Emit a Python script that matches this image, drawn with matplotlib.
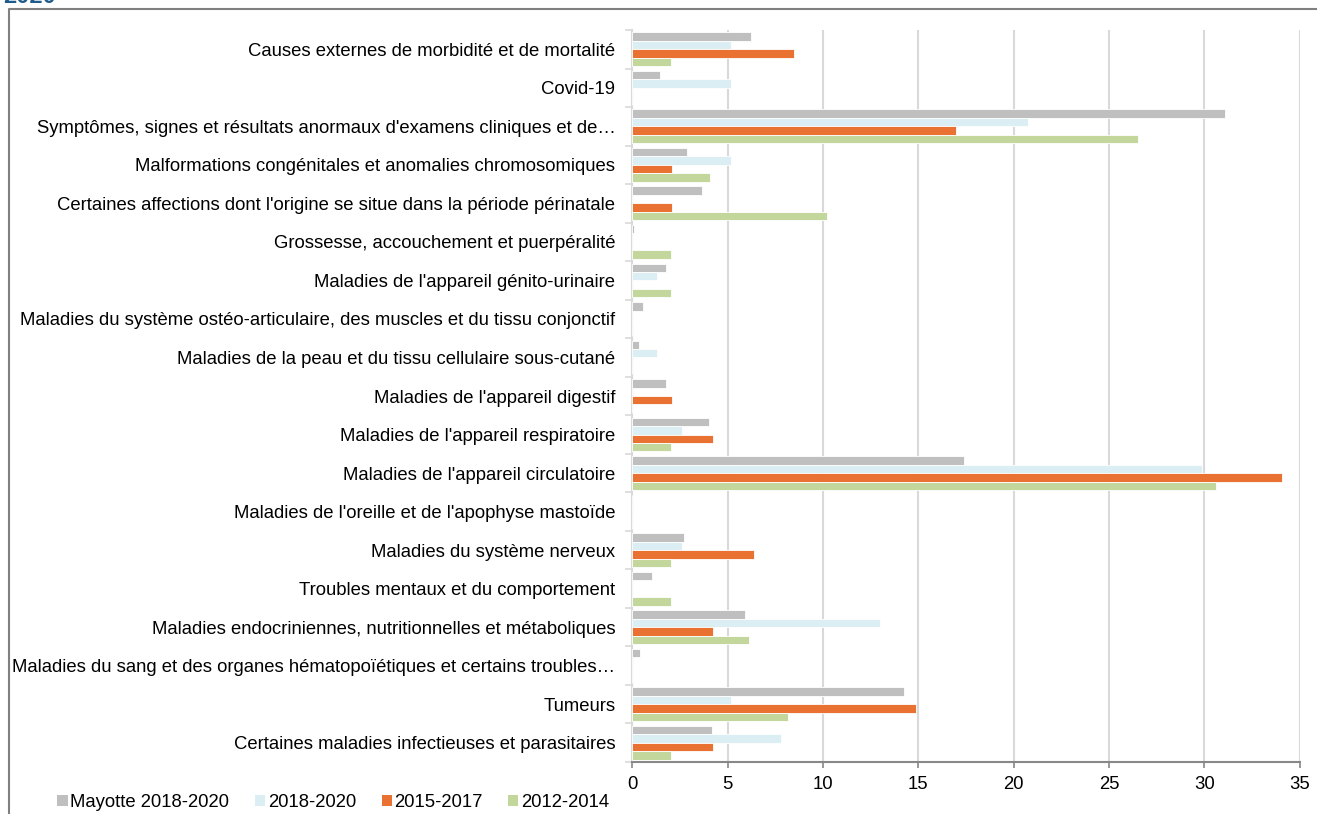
import matplotlib.pyplot as plt
from matplotlib.patches import Patch
from matplotlib.lines import Line2D
import numpy as np

plt.rcParams['font.family'] = ['Liberation Sans', 'DejaVu Sans']

# categories listed bottom to top (as drawn)
categories = [
    "Certaines maladies infectieuses et parasitaires",
    "Tumeurs",
    "Maladies du sang et des organes hématopoïétiques et certains troubles…",
    "Maladies endocriniennes, nutritionnelles et métaboliques",
    "Troubles mentaux et du comportement",
    "Maladies du système nerveux",
    "Maladies de l'oreille et de l'apophyse mastoïde",
    "Maladies de l'appareil circulatoire",
    "Maladies de l'appareil respiratoire",
    "Maladies de l'appareil digestif",
    "Maladies de la peau et du tissu cellulaire sous-cutané",
    "Maladies du système ostéo-articulaire, des muscles et du tissu conjonctif",
    "Maladies de l'appareil génito-urinaire",
    "Grossesse, accouchement et puerpéralité",
    "Certaines affections dont l'origine se situe dans la période périnatale",
    "Malformations congénitales et anomalies chromosomiques",
    "Symptômes, signes et résultats anormaux d'examens cliniques et de…",
    "Covid-19",
    "Causes externes de morbidité et de mortalité",
]

mayotte_2018_2020 = [4.2, 14.25, 0.4, 5.9, 1.05, 2.7, 0, 17.4, 4.05, 1.75, 0.35, 0.55, 1.75, 0.1, 3.65, 2.9, 31.1, 1.45, 6.25]
p2018_2020 = [7.8, 5.2, 0, 13.0, 0, 2.6, 0, 29.85, 2.6, 0, 1.3, 0, 1.3, 0, 0, 5.2, 20.75, 5.2, 5.2]
p2015_2017 = [4.25, 14.9, 0, 4.25, 0, 6.4, 0, 34.05, 4.25, 2.1, 0, 0, 0, 0, 2.1, 2.1, 17.0, 0, 8.5]
p2012_2014 = [2.05, 8.15, 0, 6.1, 2.05, 2.05, 0, 30.6, 2.05, 0, 0, 0, 2.05, 2.05, 10.2, 4.1, 26.5, 0, 2.05]

series_names = ["Mayotte 2018-2020", "2018-2020", "2015-2017", "2012-2014"]
colors = ["#BFBFBF", "#DAEEF3", "#E97132", "#C3D69B"]

fig = plt.figure(figsize=(13.17, 8.14), dpi=100)
ax = fig.add_axes([0.48, 0.064, 0.507, 0.899])

y = np.arange(len(categories))
h = 0.22
offsets = [1.5 * h, 0.5 * h, -0.5 * h, -1.5 * h]
for vals, off, col in zip([mayotte_2018_2020, p2018_2020, p2015_2017, p2012_2014], offsets, colors):
    ax.barh(y + off, vals, height=h, color=col, edgecolor='white', linewidth=0.6, zorder=3)

ax.set_xlim(0, 35)
ax.set_ylim(-0.5, len(categories) - 0.5)
ax.set_xticks(np.arange(0, 36, 5))
ax.set_yticks(y)
ax.set_yticklabels(categories)
ax.set_yticks(np.arange(-0.5, len(categories), 1), minor=True)
ax.tick_params(axis='y', which='major', length=0, pad=12, labelsize=13.3)
ax.tick_params(axis='y', which='minor', length=5, color='#D9D9D9', width=1.2)
ax.tick_params(axis='x', which='major', length=4, color='#888888', width=1.2, pad=6, labelsize=13.3)

ax.grid(axis='x', color='#D9D9D9', linewidth=1.5, zorder=0)
for s in ['top', 'right']:
    ax.spines[s].set_visible(False)
ax.spines['left'].set_color('#D9D9D9')
ax.spines['left'].set_linewidth(1.5)
ax.spines['bottom'].set_color('#888888')
ax.spines['bottom'].set_linewidth(1.5)

handles = [Patch(facecolor=c, edgecolor='none') for c in colors]
fig.legend(handles, series_names, loc='center left', bbox_to_anchor=(0.038, 0.014),
           ncol=4, frameon=False, fontsize=13.3, handlelength=0.55, handleheight=0.55,
           handletextpad=0.15, columnspacing=1.38, borderaxespad=0)

# outer frame and cut-off title
fx = 9 / 1317
fy = 1 - 9 / 814
fig.add_artist(Line2D([fx, fx, 1], [0, fy, fy], transform=fig.transFigure, color='#808080', linewidth=1.5))
fig.text(0.002, 1 - 3 / 814, "2020", color='#1F5C8B', fontweight='bold', fontsize=17, va='baseline')

fig.savefig('out.png', dpi=100)
